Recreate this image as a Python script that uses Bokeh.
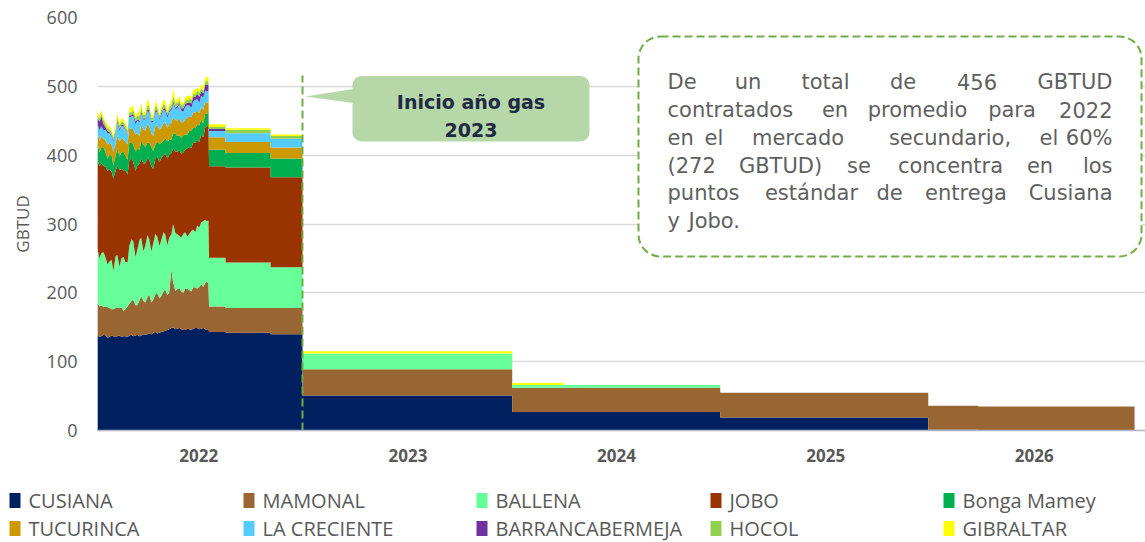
from bokeh.plotting import figure
from bokeh.layouts import column
from bokeh.models import (ColumnDataSource, BoxAnnotation, PolyAnnotation, Label,
                          FixedTicker, Range1d)
from bokeh.core.properties import value
from bokeh.embed import file_html
from bokeh.resources import INLINE

# ---------------- data ----------------
SERIES = ["CUSIANA", "MAMONAL", "BALLENA", "JOBO", "Bonga Mamey",
          "TUCURINCA", "LA CRECIENTE", "BARRANCABERMEJA", "HOCOL", "GIBRALTAR"]
COLORS = ["#002060", "#996633", "#66FF99", "#993300", "#00B050",
          "#CC9900", "#55CCFF", "#7030A0", "#92D050", "#FFFF00"]

YEAR_LABELS = ["2022", "2023", "2024", "2025", "2026"]
YEAR_TICKS = [183, 550, 916, 1283, 1649]          # days since 1 Dec 2021 (centre of each gas year)
Y_TICKS = [0, 100, 200, 300, 400, 500, 600]

# 2022 daily contracts, sampled about every 3-4 days (days since 1 Dec 2021)
DAILY_DAYS = [5, 9, 12, 16, 19, 23, 26, 30, 33, 37, 40, 44, 47, 51, 54, 58, 61, 65, 68, 72,
              75, 79, 82, 86, 89, 93, 96, 100, 103, 107, 110, 114, 117, 121, 124, 128, 131, 135,
              138, 142, 145, 149, 152, 156, 159, 163, 166, 170, 173, 177, 180, 184, 187, 191,
              194, 197, 200]
CUSIANA_D = [138, 136, 137, 139, 138, 135, 136, 138, 137, 136, 137, 138, 136, 137, 137, 136,
             138, 139, 137, 138, 139, 137, 138, 140, 139, 140, 141, 140, 142, 143, 141, 142,
             143, 144, 145, 146, 147, 149, 150, 147, 148, 149, 147, 146, 146, 148, 147, 146,
             148, 149, 149, 147, 148, 149, 147, 146, 146]
MAMONAL_D = [48, 44, 45, 40, 42, 44, 42, 38, 39, 42, 41, 40, 43, 37, 39, 44, 46, 49, 53, 44,
             43, 52, 57, 48, 47, 54, 57, 46, 48, 55, 59, 50, 52, 58, 60, 51, 53, 85, 65, 56,
             57, 58, 55, 54, 60, 58, 57, 56, 60, 59, 57, 62, 64, 60, 67, 70, 68]
BALLENA_D = [78, 70, 76, 80, 72, 62, 67, 72, 56, 75, 77, 60, 71, 78, 69, 64, 84, 90, 85, 70,
             80, 88, 85, 72, 82, 90, 80, 74, 82, 88, 82, 76, 81, 86, 80, 72, 80, 51, 85, 84,
             80, 76, 78, 86, 82, 76, 81, 88, 84, 80, 92, 86, 90, 95, 92, 88, 91]
JOBO_D = [129, 134, 130, 125, 132, 136, 135, 128, 134, 124, 130, 140, 130, 126, 133, 128,
          124, 118, 115, 125, 123, 110, 115, 128, 120, 112, 115, 124, 108, 110, 116, 122,
          119, 112, 117, 126, 120, 118, 110, 118, 120, 125, 122, 118, 120, 128, 127, 120,
          126, 130, 124, 124, 128, 122, 134, 138, 140]
BONGA_D = [25, 20, 24, 27, 21, 18, 20, 24, 19, 22, 25, 20, 24, 27, 22, 21, 26, 23, 25, 28,
           25, 21, 25, 27, 24, 22, 25, 28, 26, 20, 22, 26, 23, 21, 23, 25, 22, 20, 22, 26,
           23, 21, 23, 25, 22, 20, 23, 26, 22, 21, 23, 24, 22, 20, 20, 18, 17]
TUCURINCA_D = [14, 17, 16, 13, 17, 20, 18, 15, 20, 17, 18, 22, 21, 18, 20, 23, 22, 19, 23, 25,
               22, 20, 25, 22, 24, 27, 24, 20, 22, 26, 24, 21, 22, 25, 23, 20, 23, 24, 23, 20,
               22, 25, 23, 19, 22, 24, 21, 19, 22, 23, 20, 18, 18, 20, 18, 15, 16]
CRECIENTE_D = [13, 16, 14, 12, 15, 17, 14, 12, 15, 18, 20, 15, 17, 19, 16, 13, 15, 18, 19, 15,
               18, 20, 15, 14, 16, 19, 20, 16, 20, 21, 18, 15, 18, 20, 17, 14, 17, 19, 20, 16,
               18, 20, 17, 15, 18, 19, 16, 14, 16, 18, 17, 15, 16, 18, 16, 17, 16]
BARRANCA_D = [8, 12, 14, 9, 4, 3, 2, 2, 2, 1, 2, 3, 2, 2, 2, 1, 3, 2, 3, 4,
              2, 2, 3, 2, 2, 3, 3, 2, 2, 3, 2, 2, 3, 2, 3, 4, 2, 3, 3, 2,
              3, 2, 3, 5, 4, 3, 5, 6, 6, 5, 7, 9, 7, 6, 8, 10, 8]
HOCOL_D = [5, 4, 5, 6, 5, 4, 4, 5, 4, 3, 5, 6, 5, 4, 5, 6, 5, 4, 6, 5,
           6, 7, 6, 5, 5, 6, 6, 4, 5, 6, 5, 4, 5, 6, 5, 4, 5, 5, 8, 6,
           5, 4, 5, 6, 5, 4, 5, 6, 5, 4, 5, 6, 5, 4, 5, 6, 5]
GIBRALTAR_D = [4, 6, 4, 3, 4, 5, 4, 3, 4, 7, 6, 3, 4, 5, 4, 3, 5, 8, 6, 3,
               4, 7, 6, 3, 5, 8, 6, 3, 4, 6, 5, 3, 5, 7, 6, 4, 4, 6, 10, 4,
               5, 6, 4, 3, 5, 6, 5, 4, 5, 7, 4, 4, 5, 6, 5, 6, 6]

# constant contract blocks (start / end day)
BLOCK_START = [201, 230, 309, 365, 733, 823, 1098, 1463, 1551]
BLOCK_END = [230, 309, 365, 733, 823, 1098, 1463, 1551, 1825]
CUSIANA_B = [143, 142, 140, 51, 27, 27, 19, 1, 0]
MAMONAL_B = [37, 36, 38, 38, 35, 35, 36, 35, 35]
BALLENA_B = [71, 66, 59, 23, 4, 4, 0, 0, 0]
JOBO_B = [133, 138, 131, 0, 0, 0, 0, 0, 0]
BONGA_B = [24, 21, 27, 0, 0, 0, 0, 0, 0]
TUCURINCA_B = [18, 16, 16, 0, 0, 0, 0, 0, 0]
CRECIENTE_B = [9, 13, 13, 0, 0, 0, 0, 0, 0]
BARRANCA_B = [3, 0, 0, 0, 0, 0, 0, 0, 0]
HOCOL_B = [3, 5, 4, 0, 0, 0, 0, 0, 0]
GIBRALTAR_B = [4, 2, 2, 3, 3, 0, 0, 0, 0]

DAILY = [CUSIANA_D, MAMONAL_D, BALLENA_D, JOBO_D, BONGA_D,
         TUCURINCA_D, CRECIENTE_D, BARRANCA_D, HOCOL_D, GIBRALTAR_D]
BLOCKS = [CUSIANA_B, MAMONAL_B, BALLENA_B, JOBO_B, BONGA_B,
          TUCURINCA_B, CRECIENTE_B, BARRANCA_B, HOCOL_B, GIBRALTAR_B]

CALLOUT_TITLE = ["Inicio año gas", "2023"]
NOTE_LINES = [
    ["De", "un", "total", "de", "456", "GBTUD"],
    ["contratados", "en", "promedio", "para", "2022"],
    ["en", "el", "mercado", "secundario,", "el", "60%"],
    ["(272", "GBTUD)", "se", "concentra", "en", "los"],
    ["puntos", "estándar", "de", "entrega", "Cusiana"],
    ["y", "Jobo."],
]

# ---------------- helpers: reference pixel -> data coords (layout only) ----------------
def dx(px):
    return (px - 94) / 0.5699


def vy(py):
    return (430 - py) / 0.6883


# ---------------- source ----------------
x = list(DAILY_DAYS)
for s, e in zip(BLOCK_START, BLOCK_END):
    x += [s, e]
data = {"day": x}
keys = []
for i, (d, b) in enumerate(zip(DAILY, BLOCKS)):
    k = "s%d" % i
    keys.append(k)
    col = list(d)
    for v in b:
        col += [v, v]
    data[k] = col
src = ColumnDataSource(data)

# ---------------- main figure ----------------
p = figure(width=1145, height=475, output_backend="svg", toolbar_location=None,
           x_range=Range1d(dx(97), dx(1145)), y_range=Range1d(0, 600),
           min_border_left=97, min_border_right=0, min_border_top=17, min_border_bottom=45)
p.frame_align = False
p.outline_line_color = None
p.background_fill_color = "white"
p.border_fill_color = "white"

rends = p.varea_stack(stackers=keys, x="day", color=COLORS, source=src)

# axes
p.xaxis.ticker = FixedTicker(ticks=YEAR_TICKS)
p.xaxis.major_label_overrides = {t: lab for t, lab in zip(YEAR_TICKS, YEAR_LABELS)}
p.xaxis.major_label_text_font = "Open Sans"
p.xaxis.major_label_text_font_style = "bold"
p.xaxis.major_label_text_font_size = "17px"
p.xaxis.major_label_text_color = "#595959"
p.xaxis.major_label_standoff = 18
p.xaxis.axis_line_color = "#b0b7c3"
p.xaxis.axis_line_width = 1.5
p.xaxis.major_tick_line_color = None
p.xaxis.minor_tick_line_color = None
p.xaxis.major_tick_out = 0
p.xaxis.major_tick_in = 0

p.yaxis.ticker = FixedTicker(ticks=Y_TICKS)
p.yaxis.axis_line_color = None
p.yaxis.major_tick_line_color = None
p.yaxis.minor_tick_line_color = None
p.yaxis.major_tick_out = 0
p.yaxis.major_tick_in = 0
p.yaxis.major_label_standoff = 20
p.yaxis.major_label_text_font = "Open Sans"
p.yaxis.major_label_text_font_size = "18px"
p.yaxis.major_label_text_color = "#595959"
p.yaxis.axis_label = "GBTUD"
p.yaxis.axis_label_text_font = "Open Sans"
p.yaxis.axis_label_text_font_style = "normal"
p.yaxis.axis_label_text_font_size = "17px"
p.yaxis.axis_label_text_color = "#595959"
p.yaxis.axis_label_standoff = 10

p.xgrid.grid_line_color = None
p.ygrid.ticker = FixedTicker(ticks=Y_TICKS)
p.ygrid.grid_line_color = "#d9d9d9"
p.ygrid.grid_line_width = 1.3

# gas-year start marker
p.segment(x0=[dx(302)], y0=[0], x1=[dx(302)], y1=[vy(75)],
          line_color="#70AD47", line_width=2, line_dash="8 4")

# callout "Inicio año gas 2023"
CALLOUT_GREEN = "#B6D7A8"
p.add_layout(PolyAnnotation(xs=[dx(305), dx(356), dx(356)], ys=[vy(96), vy(88), vy(103)],
                            fill_color=CALLOUT_GREEN, fill_alpha=1, line_color=None))
p.add_layout(BoxAnnotation(left=dx(352), right=dx(589), top=vy(75.5), bottom=vy(141),
                           fill_color=CALLOUT_GREEN, fill_alpha=1, line_color=None,
                           border_radius=9))
for txt, base in zip(CALLOUT_TITLE, [101.5, 129.5]):
    p.add_layout(Label(x=dx(470.5), y=vy(base), text=txt, text_align="center",
                       text_baseline="alphabetic", text_font="DejaVu Sans",
                       text_font_style="bold", text_font_size="19px", text_color="#1F2A44"))

# note box
p.add_layout(BoxAnnotation(left=dx(638), right=dx(1141), top=vy(36), bottom=vy(256),
                           fill_color="white", fill_alpha=1, line_color="#70AD47",
                           line_alpha=1, line_width=2, line_dash="8 4", border_radius=22))
WORD_X = [
    [667, 747.5, 825, 902.5, 976.5, 1112],
    [667, 834.5, 917, 1011.5, 1112],
    [667, 713.5, 797.5, 949.5, 1048.5, 1112],
    [667, 780, 858.5, 950, 1039.5, 1112],
    [667, 811, 889, 965.5, 1112],
    [667, 688],
]
BASELINES = [81.5, 109.5, 137.5, 165.5, 193, 221]
for li, (words, xs, base) in enumerate(zip(NOTE_LINES, WORD_X, BASELINES)):
    last_line = li == len(NOTE_LINES) - 1
    for wi, (w, px) in enumerate(zip(words, xs)):
        if last_line or wi == 0:
            al = "left"
        elif wi == len(words) - 1:
            al = "right"
        else:
            al = "center"
        p.add_layout(Label(x=dx(px), y=vy(base), text=w, text_align=al,
                           text_baseline="alphabetic", text_font="DejaVu Sans",
                           text_font_size="21px", text_color="#5F5F5F"))

# ---------------- legend strip (pixel coordinates, y downwards) ----------------
LEG_H = 67
lg = figure(width=1145, height=LEG_H, output_backend="svg", toolbar_location=None,
            x_range=Range1d(0, 1145), y_range=Range1d(LEG_H, 0),
            min_border=0, x_axis_type=None, y_axis_type=None)
lg.frame_align = False
lg.outline_line_color = None
lg.xgrid.grid_line_color = None
lg.ygrid.grid_line_color = None
LEG_COL_X = [9, 243, 476, 710, 943]
LEG_ROW_Y = [25, 53]
sw_x, sw_y, tx_x = [], [], []
for i in range(len(SERIES)):
    r, c = divmod(i, 5)
    sw_x.append(LEG_COL_X[c] + 5.5)
    tx_x.append(LEG_COL_X[c] + 19)
    sw_y.append(LEG_ROW_Y[r])
leg_src = ColumnDataSource(dict(sx=sw_x, sy=sw_y, tx=tx_x, name=SERIES, color=COLORS))
lg.rect(x="sx", y="sy", width=11, height=15, fill_color="color", line_color=None, source=leg_src)
lg.text(x="tx", y="sy", text="name", source=leg_src, text_baseline="middle",
        text_font=value("Open Sans"), text_font_size="20px", text_color="#595959")

layout = column(p, lg, spacing=0)
open("out.html", "w").write(file_html(layout, INLINE))
